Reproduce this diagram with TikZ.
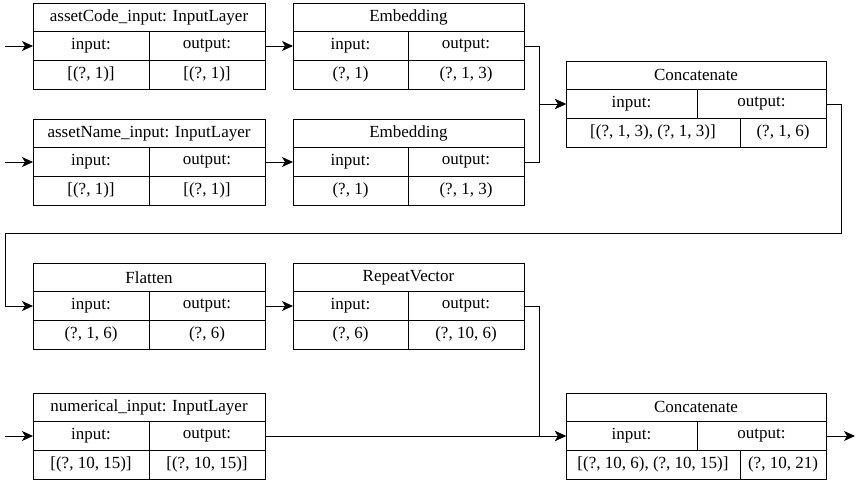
\documentclass[tikz,border=0pt]{standalone}
\usepackage{fontspec}
\setmainfont{Liberation Serif}
\usetikzlibrary{arrows.meta,calc}
\tikzset{
  cell/.style={draw, line width=1pt, anchor=north west, inner sep=0pt, outer sep=0pt,
    minimum height=28.67pt, font=\fontsize{17}{20}\selectfont},
  arr/.style={line width=1pt, -{Stealth[length=11pt,width=10pt,inset=3pt]}},
  ln/.style={line width=1pt}
}
% #1 name, #2 x, #3 y, #4 width, #5 header split, #6 value split, #7 title, #8 in value, #9 out value
\newcommand\lyr[9]{%
  \node[cell, minimum width=#4pt] (#1-t) at (#2,#3) {#7};
  \node[cell, minimum width=#5pt] (#1-i) at (#2,#3+28.67) {input:};
  \node[cell, minimum width=#4pt-#5pt] (#1-o) at (#2+#5,#3+28.67) {output:};
  \node[cell, minimum width=#6pt] (#1-vi) at (#2,#3+57.33) {#8};
  \node[cell, minimum width=#4pt-#6pt] (#1-vo) at (#2+#6,#3+57.33) {#9};
}
\begin{document}
\begin{tikzpicture}[x=1pt,y=-1pt]
\useasboundingbox (0,0) rectangle (857,482);
\lyr{A}{33}{3}{232}{116}{116}{assetCode\_input: InputLayer}{[(?, 1)]}{[(?, 1)]}
\lyr{B}{293}{3}{231}{115}{115}{Embedding}{(?, 1)}{(?, 1, 3)}
\lyr{C}{33}{119}{232}{116}{116}{assetName\_input: InputLayer}{[(?, 1)]}{[(?, 1)]}
\lyr{D}{293}{119}{231}{115}{115}{Embedding}{(?, 1)}{(?, 1, 3)}
\lyr{E}{566}{61}{260}{131}{174}{Concatenate}{[(?, 1, 3), (?, 1, 3)]}{(?, 1, 6)}
\lyr{F}{33}{263}{232}{116}{116}{Flatten}{(?, 1, 6)}{(?, 6)}
\lyr{G}{293}{263}{231}{115}{115}{RepeatVector}{(?, 6)}{(?, 10, 6)}
\lyr{H}{33}{393}{232}{116}{116}{numerical\_input: InputLayer}{[(?, 10, 15)]}{[(?, 10, 15)]}
\lyr{I}{566}{393}{260}{131}{174}{Concatenate}{[(?, 10, 6), (?, 10, 15)]}{(?, 10, 21)}

\coordinate (inA) at (5,0);
\coordinate (inC) at (5,0);
\coordinate (inH) at (5,0);
\coordinate (ret) at (5,233);
\coordinate (out) at (855,0);

\draw[arr] (inA |- A-i.west) -- (A-i.west);
\draw[arr] (inC |- C-i.west) -- (C-i.west);
\draw[arr] (inH |- H-i.west) -- (H-i.west);
\draw[arr] (A-o.east) -- (B-i.west);
\draw[arr] (C-o.east) -- (D-i.west);
\draw[arr] (B-o.east) -- ++(15,0) |- (E-i.west);
\draw[arr] (D-o.east) -- ++(15,0) |- (E-i.west);
\draw[arr] (E-o.east) -- ++(15,0) |- (ret) |- (F-i.west);
\draw[arr] (F-o.east) -- (G-i.west);
\draw[arr] (G-o.east) -- ++(15,0) |- (I-i.west);
\draw[arr] (H-o.east) -- (I-i.west);
\draw[arr] (I-o.east) -- (out |- I-o.east);
\end{tikzpicture}
\end{document}
